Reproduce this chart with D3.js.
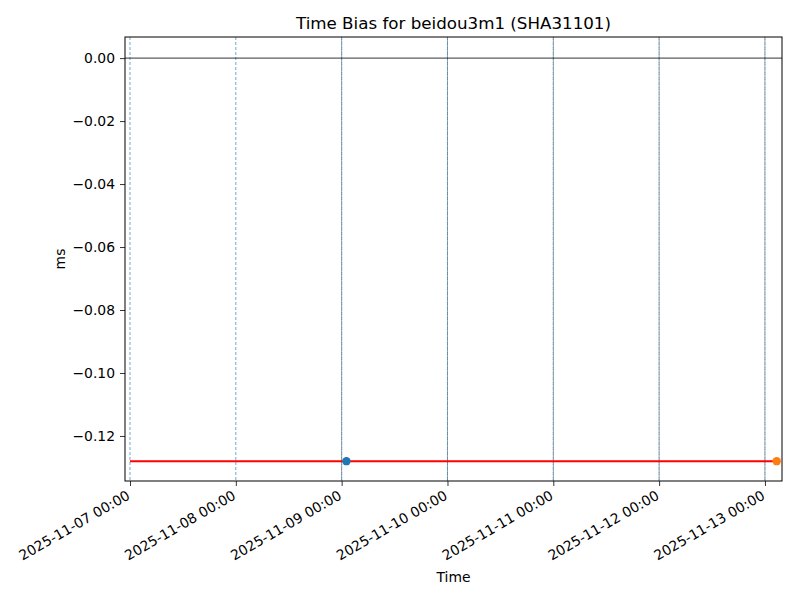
<!DOCTYPE html>
<html>
<head>
<meta charset="utf-8">
<script src="https://cdn.jsdelivr.net/npm/d3@7"></script>
<style>
  body { margin: 0; background: #fff; }
  text { font-family: "DejaVu Sans", sans-serif; fill: #000; }
</style>
</head>
<body>
<svg id="chart" width="800" height="600"></svg>
<script>
// data
var dayTicks = ["2025-11-07", "2025-11-08", "2025-11-09", "2025-11-10", "2025-11-11", "2025-11-12", "2025-11-13"];
var blueDays = ["2025-11-07", "2025-11-08"];
var biasStart = "2025-11-07T00:00";
var biasEnd = "2025-11-13T02:40";
var biasValue = -0.128;
var pointTimes = ["2025-11-09T01:05", "2025-11-13T02:40"];
var pointValues = [-0.128, -0.128];
var pointColors = ["#1f77b4", "#ff7f0e"];
var yTicks = [0.00, -0.02, -0.04, -0.06, -0.08, -0.10, -0.12];

var parseDay = d3.timeParse("%Y-%m-%d");
var parseTime = d3.timeParse("%Y-%m-%dT%H:%M");
var fmtDay = d3.timeFormat("%Y-%m-%d");

// plot area
var pLeft = 125, pRight = 782, pTop = 37, pBottom = 481;

var svg = d3.select("#chart");

var x = d3.scaleTime()
    .domain([parseTime("2025-11-06T22:52"), parseTime("2025-11-13T03:52")])
    .range([pLeft, pRight]);

var y = d3.scaleLinear()
    .domain([-0.1343, 0.0067])
    .range([pBottom, pTop]);

// day lines
var ticks = dayTicks.map(parseDay);
svg.append("g").selectAll("line")
    .data(ticks.filter(d => blueDays.indexOf(fmtDay(d)) < 0))
    .join("line")
    .attr("x1", d => x(d)).attr("x2", d => x(d))
    .attr("y1", pTop).attr("y2", pBottom)
    .attr("stroke", "#707070")
    .attr("stroke-width", 0.8)
    .attr("stroke-dasharray", "3,2");
svg.append("g").selectAll("line")
    .data(ticks)
    .join("line")
    .attr("x1", d => x(d)).attr("x2", d => x(d))
    .attr("y1", pTop).attr("y2", pBottom)
    .attr("stroke", "#1f77b4")
    .attr("stroke-width", 0.8)
    .attr("stroke-opacity", 0.8)
    .attr("stroke-dasharray", "3,2")
    .attr("stroke-dashoffset", d => blueDays.indexOf(fmtDay(d)) < 0 ? 2.5 : 0);

// zero line
svg.append("line")
    .attr("x1", pLeft).attr("x2", pRight)
    .attr("y1", y(0)).attr("y2", y(0))
    .attr("stroke", "#000")
    .attr("stroke-width", 0.8);

// bias line
svg.append("path")
    .datum([[parseTime(biasStart), biasValue], [parseTime(biasEnd), biasValue]])
    .attr("d", d3.line().x(d => x(d[0])).y(d => y(d[1])))
    .attr("stroke", "red")
    .attr("stroke-width", 2)
    .attr("fill", "none");

// points
svg.append("g").selectAll("circle")
    .data(pointTimes)
    .join("circle")
    .attr("cx", d => x(parseTime(d)))
    .attr("cy", (d, i) => y(pointValues[i]))
    .attr("r", 4.2)
    .attr("fill", (d, i) => pointColors[i]);

// frame
svg.append("rect")
    .attr("x", pLeft).attr("y", pTop)
    .attr("width", pRight - pLeft).attr("height", pBottom - pTop)
    .attr("fill", "none").attr("stroke", "#000").attr("stroke-width", 1);

// y axis
var yAxis = svg.append("g")
    .attr("transform", `translate(${pLeft},0)`)
    .call(d3.axisLeft(y).tickValues(yTicks).tickFormat(d3.format(".2f")).tickSize(5).tickPadding(5));
yAxis.select(".domain").remove();
yAxis.selectAll("text").style("font-size", "13.9px").style("font-family", "DejaVu Sans");
yAxis.selectAll("line").attr("stroke-width", 0.8);

// x axis
var xAxis = svg.append("g")
    .attr("transform", `translate(0,${pBottom})`)
    .call(d3.axisBottom(x).tickValues(ticks).tickFormat(d3.timeFormat("%Y-%m-%d %H:%M")).tickSize(5));
xAxis.select(".domain").remove();
xAxis.selectAll("line").attr("stroke-width", 0.8);
xAxis.selectAll("text")
    .style("font-size", "13.9px")
    .style("font-family", "DejaVu Sans")
    .attr("text-anchor", "end")
    .attr("dy", "0.35em")
    .attr("transform", "translate(-2,13) rotate(-30)")
    .attr("y", 0).attr("x", 0);

// title & labels
svg.append("text")
    .attr("x", (pLeft + pRight) / 2).attr("y", 29)
    .attr("text-anchor", "middle")
    .style("font-size", "16.7px")
    .text("Time Bias for beidou3m1 (SHA31101)");

svg.append("text")
    .attr("x", (pLeft + pRight) / 2).attr("y", 582)
    .attr("text-anchor", "middle")
    .style("font-size", "13.9px")
    .text("Time");

svg.append("text")
    .attr("transform", `translate(65,${(pTop + pBottom) / 2}) rotate(-90)`)
    .attr("text-anchor", "middle")
    .style("font-size", "13.9px")
    .text("ms");
</script>
</body>
</html>
